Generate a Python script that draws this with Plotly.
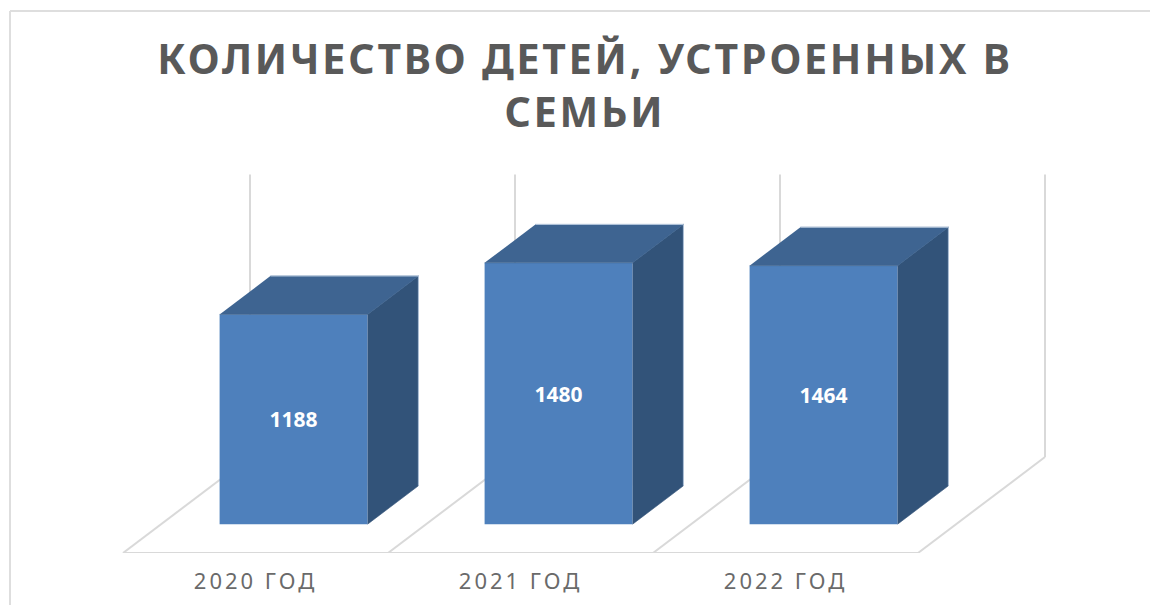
import plotly.graph_objects as go

# --- chart data ---
title_text = "КОЛИЧЕСТВО ДЕТЕЙ, УСТРОЕННЫХ В<br>СЕМЬИ"
categories = ["2020 ГОД", "2021 ГОД", "2022 ГОД"]
values = [1188, 1480, 1464]
axis_max = 1600

# --- look ---
W, H = 1150, 605
FLOOR_PX = 553            # pixel row of the floor's front edge
STEP_PX = 265             # width of one category, pixels
LEFT_PX = 123             # left end of the floor's front edge
PX_PER_UNIT = 0.1766      # vertical pixels per value unit
DEPTH_X = 127 / STEP_PX   # floor depth, x units
DEPTH_Y = 96 / PX_PER_UNIT  # floor depth, value units
BAR_D0, BAR_D1 = 0.30, 0.70  # bar depth span inside the floor
BAR_WIDTH = 148 / STEP_PX
FRONT, TOP, SIDE = "#4E80BC", "#3E6491", "#325379"
EDGE = "#B4C6DC"
GRID = "#D9D9D9"
TEXT = "#595959"
TICK_TEXT = "#6A6A6A"
FONT = "Noto Sans"


def proj(x, d, v):
    """Oblique projection: x in categories, d floor depth 0..1, v value
    measured from the bars' front baseline."""
    return x + d * DEPTH_X, v + (d - BAR_D0) * DEPTH_Y


x_left = -0.5
fig = go.Figure()

# top and side faces plus the outer light edge, derived from the same values
for i, v in enumerate(values):
    xl = i - BAR_WIDTH / 2
    xr = xl + BAR_WIDTH
    d0, d1 = BAR_D0, BAR_D1
    pts_top = [proj(xl, d0, v), proj(xr, d0, v), proj(xr, d1, v), proj(xl, d1, v)]
    pts_side = [proj(xr, d0, 0), proj(xr, d1, 0), proj(xr, d1, v), proj(xr, d0, v)]
    for pts, col in ((pts_side, SIDE), (pts_top, TOP)):
        fig.add_trace(go.Scatter(
            x=[p[0] for p in pts], y=[p[1] for p in pts], mode="lines", fill="toself",
            fillcolor=col, line=dict(width=0.6, color=col), hoverinfo="skip", showlegend=False,
        ))
    edge = [proj(xl, d1, v), proj(xr, d1, v), proj(xr, d1, 0)]
    fig.add_trace(go.Scatter(
        x=[p[0] for p in edge], y=[p[1] for p in edge], mode="lines",
        line=dict(width=1, color=EDGE), hoverinfo="skip", showlegend=False,
    ))

# bar fronts, through the library's bar scale
front_offset = BAR_D0 * DEPTH_X + (-BAR_WIDTH / 2)
fig.add_trace(go.Bar(
    x=list(range(len(values))), y=values, width=BAR_WIDTH, offset=front_offset,
    marker=dict(color=FRONT, line=dict(width=0)),
    text=[str(v) for v in values], textposition="inside", insidetextanchor="middle",
    textangle=0, constraintext="none",
    textfont=dict(family=FONT, size=21, color="white", weight="bold"),
    hoverinfo="skip", showlegend=False,
))

# floor and back wall grid, below the bars
shapes = []
n = len(categories)
line = dict(color=GRID, width=2)
x0, y0 = proj(x_left, 0, 0)
x1, _ = proj(x_left + n, 0, 0)
shapes.append(dict(type="line", x0=x0, x1=x1, y0=y0, y1=y0, line=line, layer="below"))
for k in range(n + 1):
    fx, fy = proj(x_left + k, 0, 0)
    bx, by = proj(x_left + k, 1, 0)
    tx, ty = proj(x_left + k, 1, axis_max)
    shapes.append(dict(type="line", x0=fx, x1=bx, y0=fy, y1=by, line=line, layer="below"))
    shapes.append(dict(type="line", x0=bx, x1=tx, y0=by, y1=ty, line=line, layer="below"))

# outer frame of the picture (top and left only are in view)
plot_h = FLOOR_PX
frame = dict(color="#DEDEDE", width=2)
shapes.append(dict(type="line", xref="paper", yref="paper", x0=10 / W, x1=1,
                   y0=(plot_h - 11) / plot_h, y1=(plot_h - 11) / plot_h, line=frame))
shapes.append(dict(type="line", xref="paper", yref="paper", x0=10 / W, x1=10 / W,
                   y0=(plot_h - H) / plot_h, y1=(plot_h - 11) / plot_h, line=frame))

center0 = LEFT_PX + STEP_PX / 2
x_range = [-center0 / STEP_PX, (W - center0) / STEP_PX]
base_px = BAR_D0 * 96
y_low = -base_px / PX_PER_UNIT
y_high = (FLOOR_PX - base_px) / PX_PER_UNIT

fig.update_layout(
    width=W, height=H, autosize=False,
    margin=dict(l=0, r=0, t=0, b=H - FLOOR_PX, pad=0),
    paper_bgcolor="white", plot_bgcolor="rgba(0,0,0,0)",
    showlegend=False, shapes=shapes, barmode="overlay",
    title=dict(text="<b>" + title_text.replace("<br>", "</b><br><b>") + "</b>",
               x=585 / W, xanchor="center", xref="paper",
               y=1 - 74 / H, yanchor="top",
               font=dict(family=FONT, size=41, color=TEXT)),
    xaxis=dict(range=x_range, tickmode="array", tickvals=list(range(n)), ticktext=categories,
               showgrid=False, zeroline=False, showline=False, ticks="outside",
               ticklen=9, tickcolor="rgba(0,0,0,0)",
               tickfont=dict(family=FONT, size=22, color=TICK_TEXT), fixedrange=True),
    yaxis=dict(range=[y_low, y_high], visible=False, fixedrange=True),
)

post = """
document.body.style.margin = '0';
document.body.style.overflow = 'hidden';
document.querySelectorAll('.gtitle').forEach(e => e.style.letterSpacing = '2.8px');
document.querySelectorAll('.xtick text').forEach(e => e.style.letterSpacing = '3px');
"""
fig.write_html("out.html", config={"displayModeBar": False}, post_script=post)
